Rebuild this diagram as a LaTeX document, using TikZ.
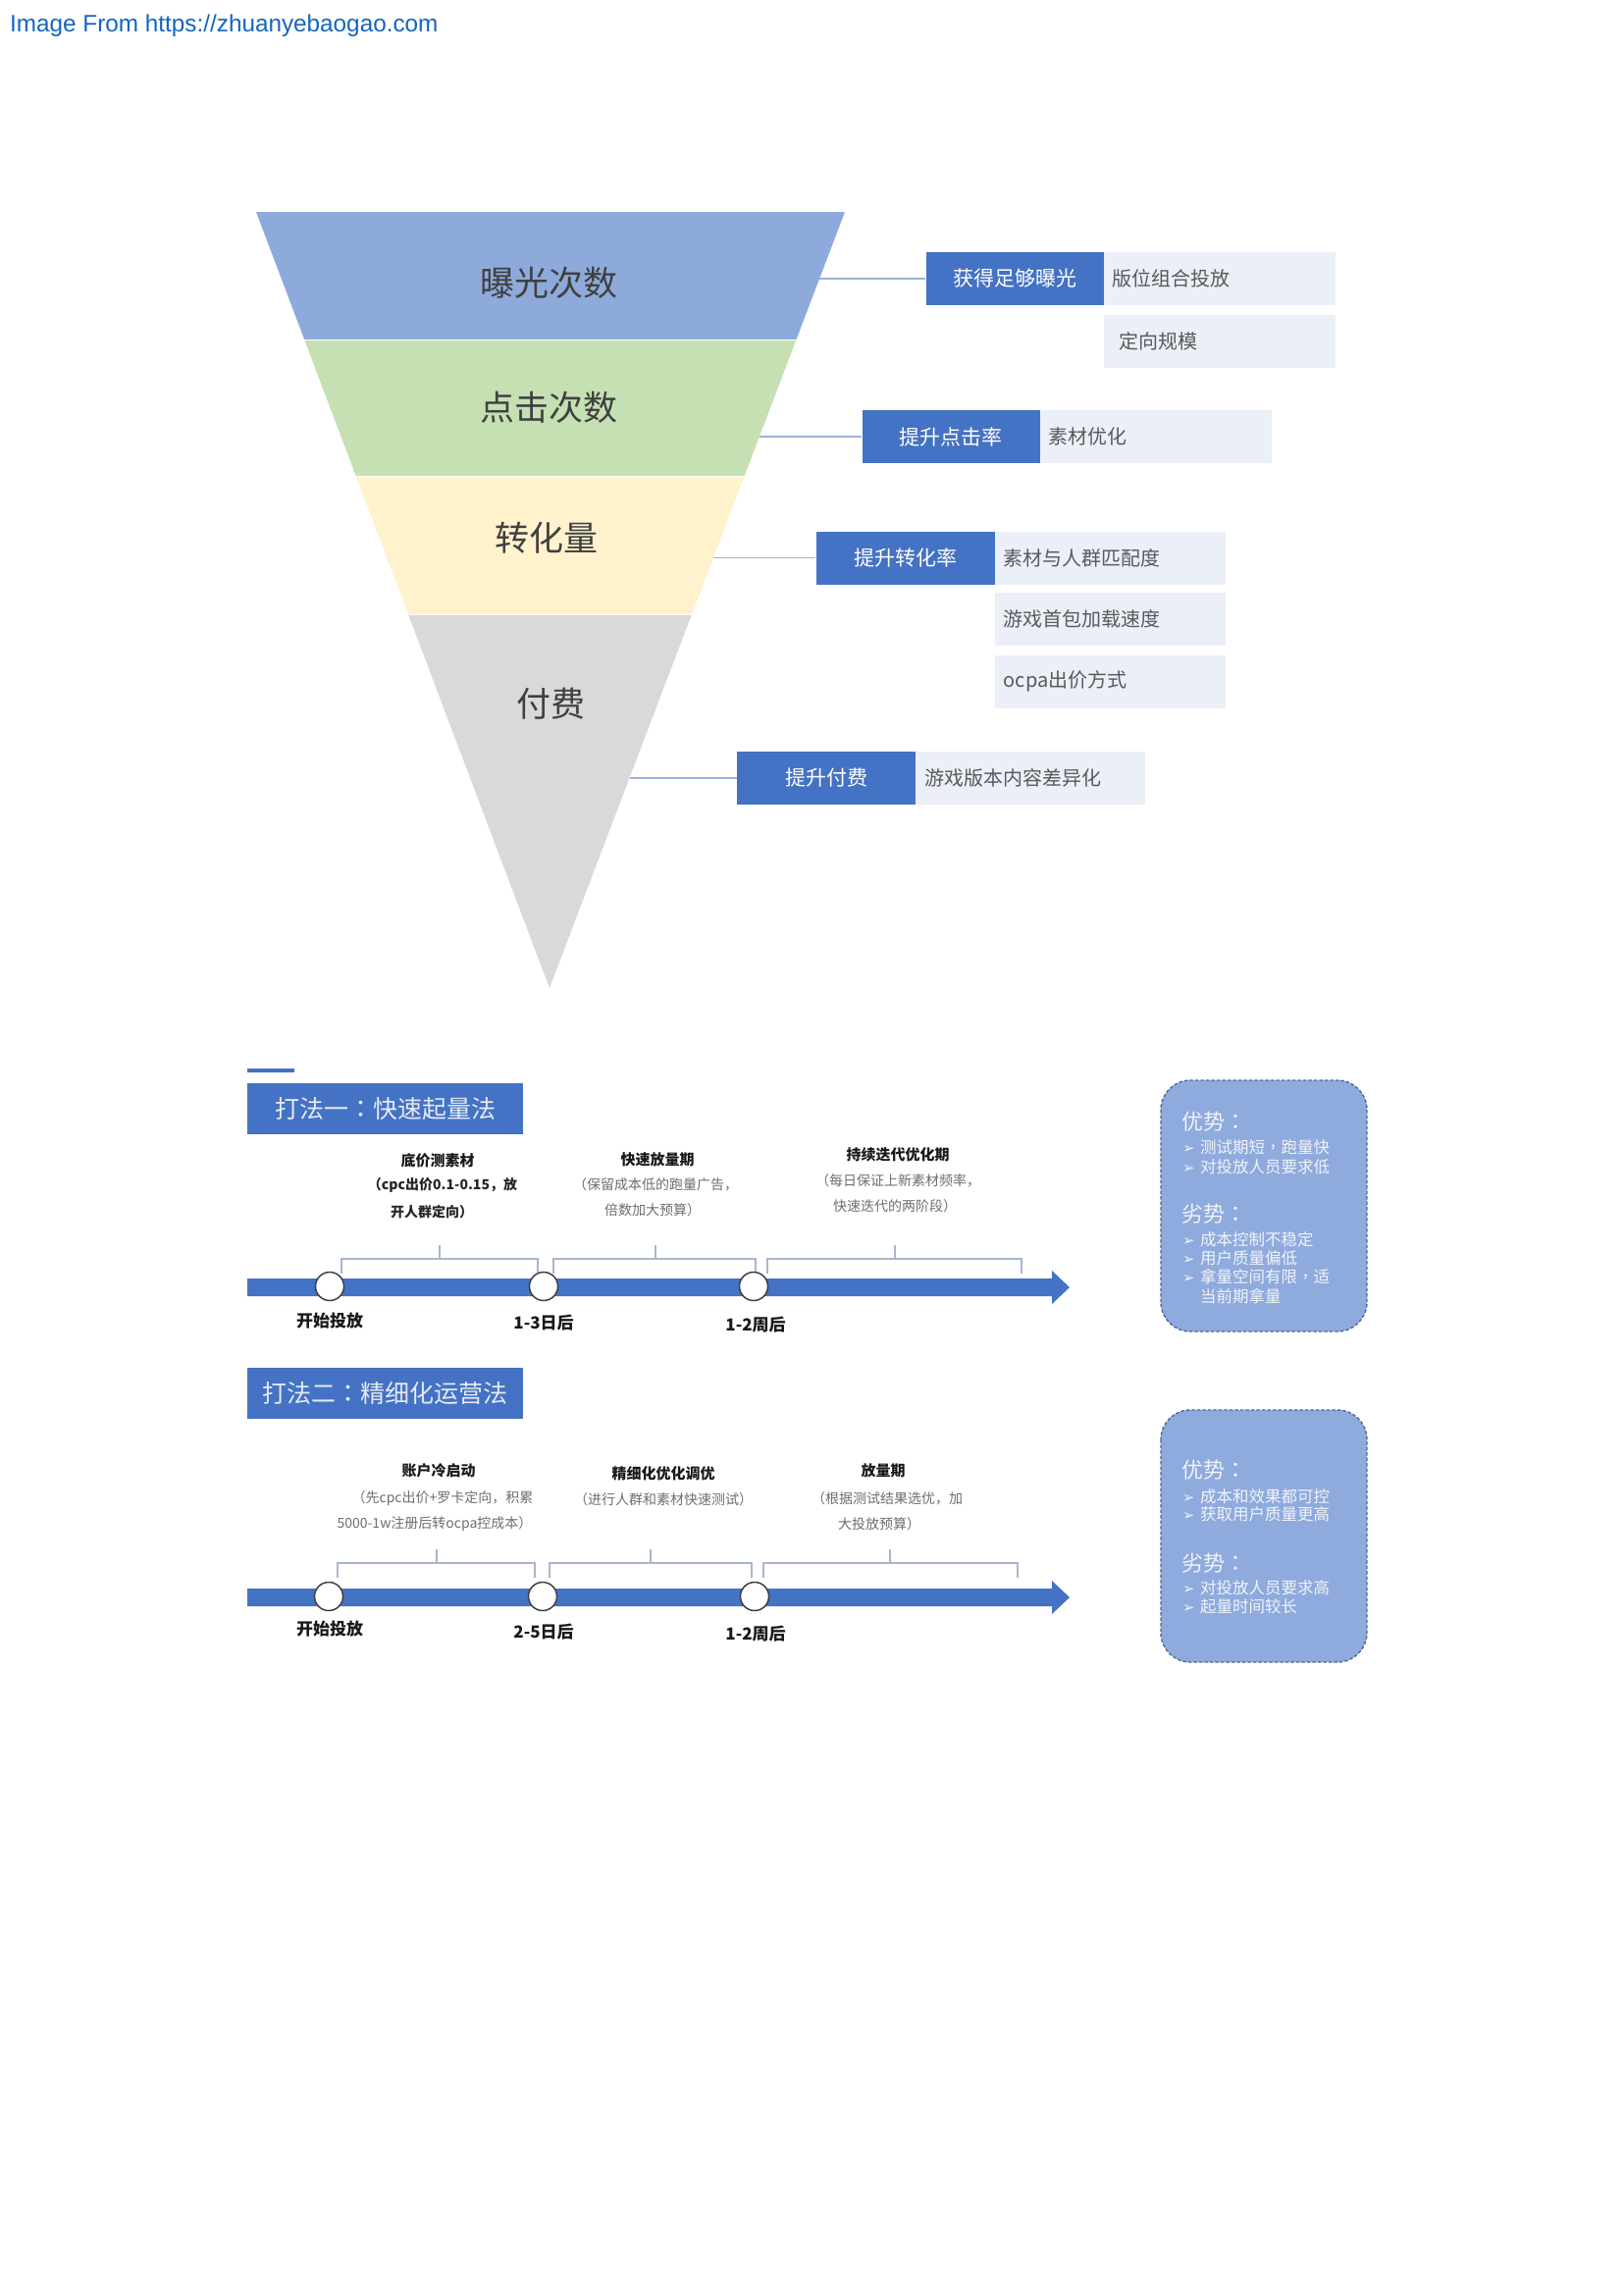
\documentclass[tikz,border=0pt]{standalone}
\usepackage{fontspec}
\setmainfont{Noto Sans CJK SC}
\newfontfamily\latinfont{Liberation Sans}
\newfontfamily\djv{DejaVu Sans}
\newfontfamily\tcfont{Noto Sans CJK TC}
\definecolor{fblue}{HTML}{8EAADB}
\definecolor{fgreen}{HTML}{C5E0B3}
\definecolor{fyellow}{HTML}{FFF2CC}
\definecolor{fgray}{HTML}{D9D9D9}
\definecolor{dblue}{HTML}{4472C4}
\definecolor{lbox}{HTML}{EBEFF8}
\definecolor{txtgray}{HTML}{595959}
\definecolor{ftxt}{HTML}{404040}
\definecolor{lnk}{HTML}{9DB2D6}
\definecolor{hdr}{HTML}{1565C0}
\definecolor{brkc}{HTML}{A7B7CF}
\definecolor{pcfill}{HTML}{8FAADC}
\definecolor{pcline}{HTML}{4E6A98}
\definecolor{pctext}{HTML}{F0F3F9}
\definecolor{ttltext}{HTML}{E4EAF5}
\definecolor{desc}{HTML}{6E6E6E}
\newcommand\pcbul{\makebox[18pt][l]{\djv\fontsize{15}{15}\selectfont ➢}}
\newcommand\cco{{\tcfont ：}}
\newcommand\ccm{{\tcfont ，}}
\newcommand\tlbrk[4]{\draw[brkt] (#1,#4+15) -- (#1,#4) -- (#2,#4) -- (#2,#4+15); \draw[brkt] (#3,#4) -- (#3,#4-14);}
\tikzset{
  flabel/.style={font=\fontsize{35}{35}\selectfont, text=ftxt, inner sep=0},
  darkbox/.style={fill=dblue, text=white, minimum height=54pt, inner sep=0, font=\fontsize{21}{21}\selectfont},
  lightbox/.style={fill=lbox, text=txtgray, minimum height=54pt, inner ysep=0, inner xsep=9pt, text width=#1, align=left, font=\fontsize{20}{20}\selectfont},
  link/.style={draw=lnk, line width=1.6pt},
  ttlbox/.style={fill=dblue, text=ttltext, minimum width=281pt, minimum height=52pt, inner sep=0, font=\fontsize{25}{25}\selectfont},
  tcircle/.style={circle, fill=white, draw=ftxt, line width=1.5pt, minimum size=29pt, inner sep=0},
  tlabel/.style={font=\bfseries\fontsize{17}{17}\selectfont, text=black!90, inner sep=0},
  phase/.style={font=\bfseries\fontsize{15}{15}\selectfont, text=black!90, inner sep=0},
  pdescb/.style={font=\bfseries\fontsize{14}{14}\selectfont, text=black!85, inner sep=0},
  pdesc/.style={font=\fontsize{14}{14}\selectfont, text=desc, inner sep=0},
  brkt/.style={draw=brkc, line width=1.3pt},
  pcbox/.style={fill=pcfill, draw=pcline, line width=1.4pt, dash pattern=on 3.5pt off 2pt, rounded corners=30pt},
  pchead/.style={font=\fontsize{22}{22}\selectfont, text=pctext, inner sep=0, anchor=west},
  pcitem/.style={font=\fontsize{16.5}{16.5}\selectfont, text=pctext, inner sep=0, anchor=west},
  tlbar/.style={fill=dblue}
}
\begin{document}
\begin{tikzpicture}[x=1pt,y=-1pt]
\useasboundingbox (0,0) rectangle (1654,2339);
\fill[white] (0,0) rectangle (1654,2339);
% header
\node[anchor=base west, inner sep=0, text=hdr, font=\latinfont\fontsize{24.3}{24.3}\selectfont] (hdr) at (10,33) {Image From https://zhuanyebaogao.com};
% funnel
\begin{scope}
\clip (261,216) -- (861,216) -- (560,1007) -- cycle;
\fill[fblue] (250,210) rectangle (870,346);
\fill[fgreen] (250,346) rectangle (870,485);
\fill[fyellow] (250,485) rectangle (870,626);
\fill[fgray] (250,626) rectangle (870,1010);
\draw[white, line width=1pt] (250,346) -- (870,346) (250,485) -- (870,485) (250,626) -- (870,626);
\end{scope}
\node[flabel] (f1) at (559,288) {曝光次数};
\node[flabel] (f2) at (559,415) {点击次数};
\node[flabel] (f3) at (557,548) {转化量};
\node[flabel] (f4) at (561,717) {付费};
% edge points
\coordinate (e1) at (835,284);
\coordinate (e2) at (774,445);
\coordinate (e3) at (727,568.5);
\coordinate (e4) at (641.5,793);
% right boxes
\node[darkbox, minimum width=181pt] (d1) at (1034,284) {获得足够曝光};
\node[lightbox=218pt, anchor=west] (l1a) at (d1.east) {版位组合投放};
\node[lightbox=204pt, inner xsep=16pt, anchor=west] (l1b) at (1124.5,347.5) {定向规模};
\node[darkbox, minimum width=181pt] (d2) at (969,445) {提升点击率};
\node[lightbox=218pt, anchor=west] (l2a) at (d2.east) {素材优化};
\node[darkbox, minimum width=182pt] (d3) at (922.5,568.5) {提升转化率};
\node[lightbox=217pt, anchor=west] (l3a) at (d3.east) {素材与人群匹配度};
\node[lightbox=217pt, anchor=west] (l3b) at (1013.5,631) {游戏首包加载速度};
\node[lightbox=217pt, anchor=west] (l3c) at (1013.5,694.5) {ocpa出价方式};
\node[darkbox, minimum width=182pt] (d4) at (842,793) {提升付费};
\node[lightbox=216pt, anchor=west] (l4a) at (d4.east) {游戏版本内容差异化};
\draw[link] (e1) -- (d1.west);
\draw[link] (e2) -- (d2.west);
\draw[link] (e3) -- (d3.west);
\draw[link] (e4) -- (d4.west);
% ===== strategy 1 =====
\draw[dblue, line width=4pt] (252,1091) -- (300,1091);
\node[ttlbox] (t1) at (392.5,1130) {打法一\cco 快速起量法};
\fill[tlbar] (252,1303) -- (1072,1303) -- (1072,1295) -- (1090,1312) -- (1072,1329) -- (1072,1321) -- (252,1321) -- cycle;
\tlbrk{348}{548}{448}{1283}
\tlbrk{564}{770}{668}{1283}
\tlbrk{782}{1041}{912}{1283}
\node[tcircle] (c11) at (336,1311) {};
\node[tcircle] (c12) at (554,1311) {};
\node[tcircle] (c13) at (768,1311) {};
\node[tlabel] (s11) at (336,1346) {开始投放};
\node[tlabel] (s12) at (554,1348) {1-3日后};
\node[tlabel] (s13) at (770,1350) {1-2周后};
\node[phase] (p11) at (446,1183) {底价测素材};
\node[pdescb] (q11) at (451,1208) {（cpc出价0.1-0.15，放};
\node[pdescb] (r11) at (440,1235) {开人群定向）};
\node[phase] (p12) at (670,1182) {快速放量期};
\node[pdesc] (q12) at (668,1207) {（保留成本低的跑量广告，};
\node[pdesc] (r12) at (665,1233) {倍数加大预算）};
\node[phase] (p13) at (915,1177) {持续迭代优化期};
\node[pdesc] (q13) at (915,1203) {（每日保证上新素材频率，};
\node[pdesc] (r13) at (912,1229) {快速迭代的两阶段）};
% pros/cons 1
\path[pcbox] (1183,1101) rectangle (1393,1357);
\node[pchead] (h11) at (1204,1143) {优势\cco};
\node[pcitem] (i11) at (1205,1169) {\pcbul 测试期短\ccm 跑量快};
\node[pcitem] (i12) at (1205,1189) {\pcbul 对投放人员要求低};
\node[pchead] (h12) at (1204,1237) {劣势\cco};
\node[pcitem] (i13) at (1205,1263) {\pcbul 成本控制不稳定};
\node[pcitem] (i14) at (1205,1282) {\pcbul 用户质量偏低};
\node[pcitem] (i15) at (1205,1301) {\pcbul 拿量空间有限\ccm 适};
\node[pcitem] (i16) at (1223,1321) {当前期拿量};
% ===== strategy 2 =====
\node[ttlbox] (t2) at (392.5,1420) {打法二\cco 精细化运营法};
\fill[tlbar] (252,1619) -- (1072,1619) -- (1072,1611) -- (1090,1628) -- (1072,1645) -- (1072,1637) -- (252,1637) -- cycle;
\tlbrk{344}{545}{445}{1593}
\tlbrk{560}{766}{663}{1593}
\tlbrk{778}{1037}{907}{1593}
\node[tcircle] (c21) at (335,1627) {};
\node[tcircle] (c22) at (553,1627) {};
\node[tcircle] (c23) at (769,1627) {};
\node[tlabel] (s21) at (336,1660) {开始投放};
\node[tlabel] (s22) at (554,1663) {2-5日后};
\node[tlabel] (s23) at (770,1665) {1-2周后};
\node[phase] (p21) at (447,1499) {账户冷启动};
\node[pdesc] (q21) at (451,1527) {（先cpc出价+罗卡定向，积累};
\node[pdesc] (r21) at (443,1553) {5000-1w注册后转ocpa控成本）};
\node[phase] (p22) at (676,1502) {精细化优化调优};
\node[pdesc] (q22) at (676,1528) {（进行人群和素材快速测试）};
\node[phase] (p23) at (900,1499) {放量期};
\node[pdesc] (q23) at (904,1527) {（根据测试结果选优，加};
\node[pdesc] (r23) at (896,1553) {大投放预算）};
% pros/cons 2
\path[pcbox] (1183,1437) rectangle (1393,1694);
\node[pchead] (h21) at (1204,1498) {优势\cco};
\node[pcitem] (i21) at (1205,1525) {\pcbul 成本和效果都可控};
\node[pcitem] (i22) at (1205,1543) {\pcbul 获取用户质量更高};
\node[pchead] (h22) at (1204,1593) {劣势\cco};
\node[pcitem] (i23) at (1205,1618) {\pcbul 对投放人员要求高};
\node[pcitem] (i24) at (1205,1637) {\pcbul 起量时间较长};
\end{tikzpicture}
\end{document}
